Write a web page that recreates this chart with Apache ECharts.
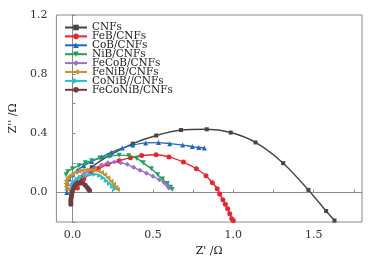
<!DOCTYPE html>
<html>
<head>
<meta charset="utf-8">
<script src="https://cdn.jsdelivr.net/npm/echarts@6/dist/echarts.min.js"></script>
<style>html,body{margin:0;padding:0;background:#fff}#c{width:378px;height:266px}</style>
</head>
<body>
<div id="c"></div>
<script>
const seriesNames = ['CNFs','FeB/CNFs','CoB/CNFs','NiB/CNFs','FeCoB/CNFs','FeNiB/CNFs','CoNiB//CNFs','FeCoNiB/CNFs'];
const xTickValues = [0,0.25,0.5,0.75,1,1.25,1.5,1.75];
const xLabelValues = [0,0.5,1,1.5];
const yTickValues = [-0.2,0,0.2,0.4,0.6,0.8,1.0,1.2];
const yLabelValues = [0,0.4,0.8,1.2];

const CNFs = [[0.03,0.03],[0.06,0.1],[0.12,0.17],[0.23,0.25],[0.375,0.33],[0.521,0.385],[0.675,0.422],[0.835,0.427],[0.984,0.405],[1.138,0.338],[1.31,0.198],[1.467,0.017],[1.577,-0.126],[1.629,-0.19]];
const FeB = [[0.03,0.03],[0.04,0.06],[0.07,0.09],[0.11,0.13],[0.16,0.16],[0.22,0.19],[0.29,0.215],[0.36,0.235],[0.43,0.25],[0.52,0.255],[0.6,0.24],[0.69,0.205],[0.77,0.16],[0.83,0.113],[0.87,0.065],[0.9,0.025],[0.915,-0.01],[0.935,-0.05],[0.95,-0.08],[0.965,-0.11],[0.978,-0.145],[0.99,-0.178],[1.0,-0.19]];
const CoB = [[-0.035,0.0],[-0.033,0.03],[-0.03,0.06],[-0.02,0.09],[0.0,0.12],[0.03,0.15],[0.07,0.18],[0.12,0.21],[0.18,0.24],[0.24,0.27],[0.31,0.3],[0.375,0.32],[0.455,0.335],[0.535,0.337],[0.605,0.33],[0.685,0.32],[0.745,0.31],[0.785,0.304],[0.82,0.3]];
const NiB = [[-0.04,0.12],[-0.03,0.14],[0.0,0.16],[0.04,0.18],[0.08,0.2],[0.12,0.215],[0.17,0.233],[0.23,0.245],[0.29,0.252],[0.35,0.248],[0.4,0.23],[0.44,0.2],[0.49,0.16],[0.53,0.12],[0.56,0.09],[0.59,0.06],[0.61,0.035],[0.62,0.02]];
const FeCoB = [[0.0,0.06],[0.02,0.08],[0.04,0.1],[0.07,0.125],[0.1,0.145],[0.14,0.165],[0.18,0.185],[0.22,0.2],[0.26,0.205],[0.3,0.2],[0.34,0.19],[0.38,0.17],[0.42,0.15],[0.46,0.13],[0.5,0.11],[0.54,0.085],[0.57,0.065],[0.59,0.045],[0.6,0.03]];
const FeNiB = [[-0.03,0.02],[-0.04,0.04],[-0.042,0.06],[-0.04,0.08],[-0.03,0.1],[-0.015,0.115],[0.0,0.125],[0.02,0.135],[0.04,0.143],[0.06,0.148],[0.085,0.152],[0.11,0.153],[0.135,0.152],[0.16,0.145],[0.18,0.135],[0.2,0.12],[0.22,0.1],[0.24,0.075],[0.255,0.055],[0.27,0.035],[0.28,0.02]];
const CoNiB = [[0.0,0.04],[0.01,0.07],[0.03,0.09],[0.05,0.105],[0.08,0.115],[0.11,0.122],[0.14,0.123],[0.17,0.115],[0.19,0.1],[0.21,0.08],[0.23,0.06],[0.25,0.04],[0.265,0.025]];
const FeCoNiB = [[-0.01,-0.08],[-0.01,-0.065],[-0.01,-0.05],[-0.008,-0.035],[-0.006,-0.02],[-0.004,-0.005],[0.0,0.01],[0.005,0.025],[0.012,0.04],[0.022,0.055],[0.035,0.065],[0.05,0.068],[0.065,0.062],[0.08,0.048],[0.092,0.033],[0.1,0.022],[0.106,0.013]];

const allData = [CNFs,FeB,CoB,NiB,FeCoB,FeNiB,CoNiB,FeCoNiB];
const colors = ['#454545','#e8262d','#2266c4','#1fa35a','#9b6fd0','#c8922e','#25c2c8','#6e3f42'];
const symbols = ['rect','circle','triangle','triangle','diamond','triangle','triangle','circle'];
const rotates = [0,0,0,180,0,90,-90,0];

const font = 'DejaVu Serif';
const chart = echarts.init(document.getElementById('c'));
chart.setOption({
  animation: false,
  grid: {left: 46, right: 16, top: 15, bottom: 44, show: true, borderColor: '#8a8a8a', borderWidth: 1},
  legend: {
    left: 59, top: 17, orient: 'vertical', itemWidth: 22, itemHeight: 7, itemGap: -2.1,
    textStyle: {fontFamily: font, fontSize: 10.5, color: '#222'},
    data: seriesNames
  },
  xAxis: {
    type: 'value', min: -0.1, max: 1.8,
    name: "Z' /Ω", nameLocation: 'middle', nameGap: 22,
    nameTextStyle: {fontFamily: font, fontSize: 11, color: '#222'},
    axisLine: {show: true, lineStyle: {color: '#8a8a8a'}},
    axisTick: {show: true, inside: true, length: 3, customValues: xTickValues, lineStyle: {color: '#8a8a8a'}},
    axisLabel: {customValues: xLabelValues, fontFamily: font, fontSize: 11, color: '#333', margin: 8, formatter: v => v.toFixed(1)},
    splitLine: {show: false}
  },
  yAxis: {
    type: 'value', min: -0.2, max: 1.2,
    name: "Z'' /Ω", nameLocation: 'middle', nameGap: 31,
    nameTextStyle: {fontFamily: font, fontSize: 11, color: '#222'},
    axisLine: {show: true, lineStyle: {color: '#8a8a8a'}},
    axisTick: {show: true, inside: true, length: 3, customValues: yTickValues, lineStyle: {color: '#8a8a8a'}},
    axisLabel: {customValues: yLabelValues, fontFamily: font, fontSize: 11, color: '#333', margin: 9, formatter: v => v.toFixed(1)},
    splitLine: {show: false}
  },
  series: seriesNames.map((n, i) => ({
    name: n, type: 'line', data: allData[i], smooth: 0.3,
    symbol: symbols[i], symbolRotate: rotates[i], symbolSize: i === 0 ? 4 : 5,
    showAllSymbol: true, clip: true,
    itemStyle: {color: colors[i]},
    lineStyle: {color: colors[i], width: 1.4}
  }))
});
</script>
</body>
</html>
